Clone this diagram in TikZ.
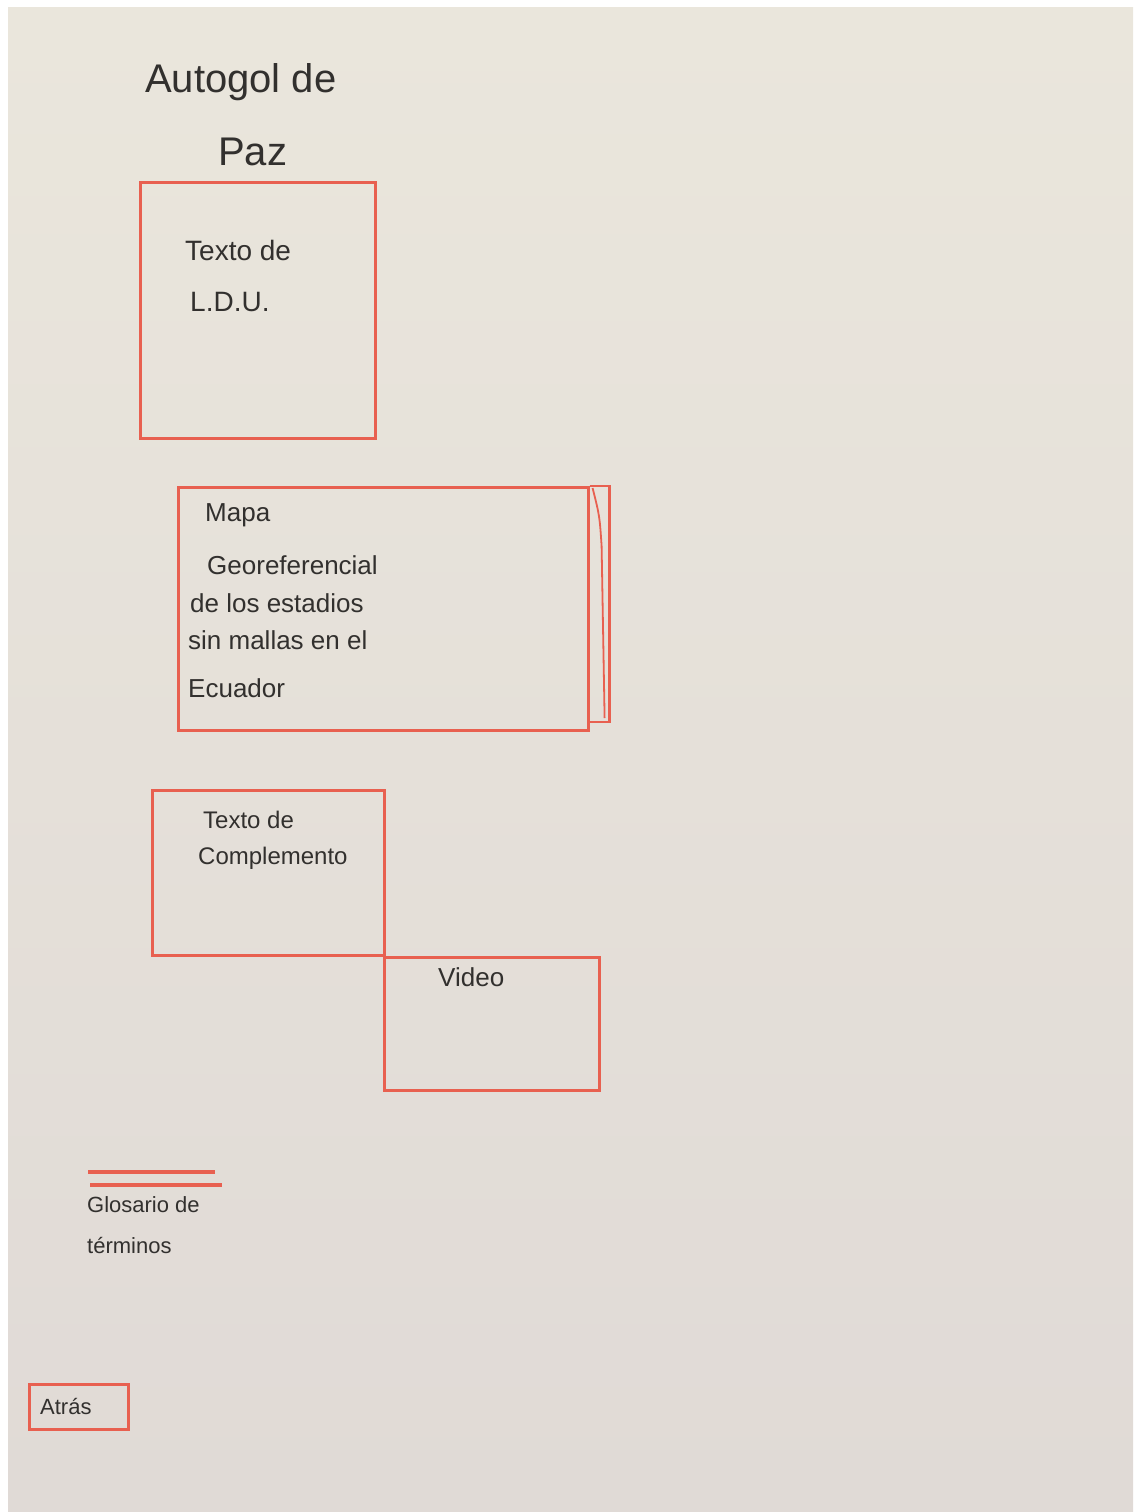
\documentclass[tikz,border=0pt]{standalone}
\usepackage{fontspec}
\setmainfont{Liberation Sans}
\definecolor{paper}{RGB}{234,230,220}
\definecolor{paperlow}{RGB}{224,218,214}
\definecolor{redpen}{RGB}{232,96,80}
\definecolor{ink}{RGB}{50,48,46}
\tikzset{
  sketchbox/.style={draw=redpen, line width=2.6pt, anchor=north west, inner sep=0pt},
  redline/.style={draw=redpen, line width=2.6pt},
  hand/.style={text=ink, anchor=west, inner sep=0pt, font=\fontsize{#1}{#1}\selectfont},
  hand/.default=26
}
\begin{document}
\begin{tikzpicture}[x=1pt,y=-1pt]
\useasboundingbox (0,0) rectangle (1133,1512);
\fill[white] (0,0) rectangle (1133,1512);
\shade[top color=paper, bottom color=paperlow] (8,8) rectangle (1133,1512);

% title
\node[hand=40] (title1) at (145,82) {Autogol de};
\node[hand=40] (title2) at (218,152) {Paz};

% L.D.U. box
\node[sketchbox, minimum width=235pt, minimum height=256pt] (ldu) at (139,181) {};
\node[hand=28] (ldu1) at (185,250) {Texto de};
\node[hand=28] (ldu2) at (190,302) {L.D.U.};

% map box
\node[sketchbox, minimum width=410pt, minimum height=243pt] (map) at (177,486) {};
\draw[redline] (map.north east) -- ++(20,0) coordinate (mapc1) -- ++(0,236) coordinate (mapc2) -- ++(-20,0);
\draw[redline, line width=1.8pt] ([xshift=3pt,yshift=-2pt]map.north east) .. controls ([xshift=10pt,yshift=-30pt]map.north east) .. ([xshift=12pt,yshift=-60pt]map.north east) -- ([xshift=15pt,yshift=-232pt]map.north east);
\node[hand=26] (map1) at (205,515) {Mapa};
\node[hand=26] (map2) at (207,565) {Georeferencial};
\node[hand=26] (map3) at (190,603) {de los estadios};
\node[hand=26] (map4) at (188,640) {sin mallas en el};
\node[hand=26] (map5) at (188,688) {Ecuador};

% complement box
\node[sketchbox, minimum width=232pt, minimum height=165pt] (comp) at (151,789) {};
\node[hand=24] (comp1) at (203,820) {Texto de};
\node[hand=24] (comp2) at (198,858) {Complemento};

% video box
\node[sketchbox, minimum width=215pt, minimum height=133pt] (video) at (383,956) {};
\node[hand=26] (video1) at (438,977) {Video};

% glossary
\coordinate (g1a) at (88,1172);
\coordinate (g1b) at (215,1172);
\coordinate (g2a) at (90,1185);
\coordinate (g2b) at (222,1185);
\draw[redline, line width=3.6pt] (g1a) -- (g1b);
\draw[redline, line width=3.6pt] (g2a) -- (g2b);
\node[hand=22] (glos1) at (87,1205) {Glosario de};
\node[hand=22] (glos2) at (87,1245) {términos};

% back button
\node[sketchbox, minimum width=99pt, minimum height=45pt] (back) at (28,1383) {};
\node[hand=22] (back1) at (40,1406) {Atrás};
\end{tikzpicture}
\end{document}
